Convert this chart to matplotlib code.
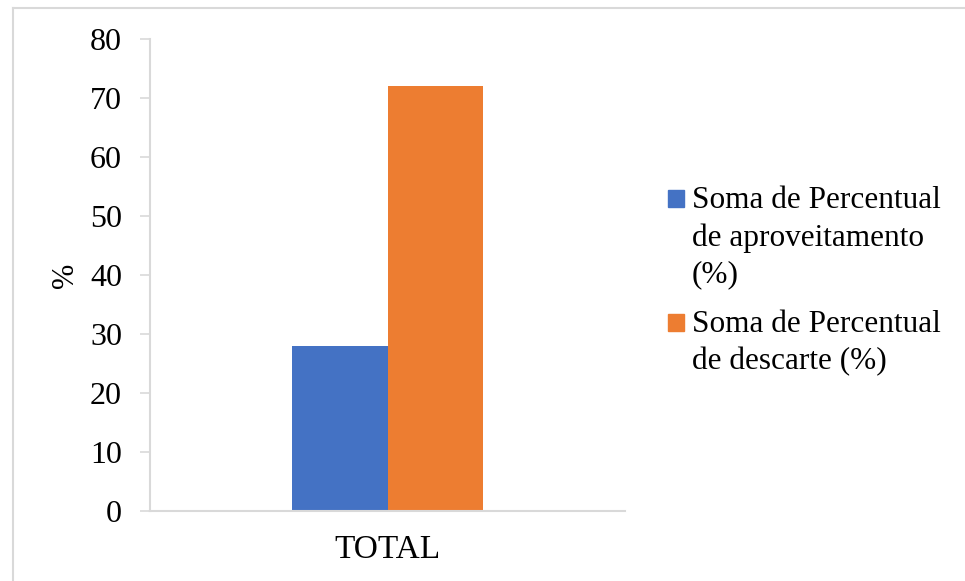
import matplotlib.pyplot as plt
from matplotlib.patches import Rectangle
from matplotlib.lines import Line2D

#_________________________________________
# DATA
#_________________________________________
categories = ["TOTAL"]
series_names = ["Soma de Percentual\nde aproveitamento\n(%)",
                "Soma de Percentual\nde descarte (%)"]
aproveitamento = [28]
descarte = [72]
y_ticks = [0, 10, 20, 30, 40, 50, 60, 70, 80]

colors = ["#4472C4", "#ED7D31"]
grey = "#D9D9D9"

plt.rcParams["font.family"] = ["Liberation Serif", "DejaVu Serif"]

W, H = 965, 581
fig = plt.figure(figsize=(W / 100, H / 100), dpi=100)
ax = fig.add_axes([150 / W, 1 - 511 / H, 475 / W, 472 / H])

# bars
bar_w = 0.201
x = list(range(len(categories)))
ax.bar([i - bar_w / 2 for i in x], aproveitamento, width=bar_w, color=colors[0])
ax.bar([i + bar_w / 2 for i in x], descarte, width=bar_w, color=colors[1])

ax.set_xlim(-0.5, 0.5)
ax.set_ylim(0, 80)
ax.set_yticks(y_ticks)
ax.set_xticks(x)
ax.set_xticklabels(categories, fontsize=24)
ax.tick_params(axis="x", length=0, pad=17)
ax.tick_params(axis="y", length=7.2, width=1.2, color=grey, labelsize=23, pad=13)

for s in ["top", "right"]:
    ax.spines[s].set_visible(False)
for s in ["left", "bottom"]:
    ax.spines[s].set_color(grey)
    ax.spines[s].set_linewidth(1.5)

ax.set_ylabel("%", fontsize=22, labelpad=7)

# legend drawn by hand so marker sits on first line
leg_top = [186, 310]
for name, c, yt in zip(series_names, colors, leg_top):
    fig.patches.append(Rectangle((668 / W, 1 - (yt + 21) / H), 16 / W, 17 / H,
                                 transform=fig.transFigure, color=c))
    fig.text(692 / W, 1 - yt / H, name, fontsize=22.5, va="top",
             ha="left", linespacing=1.36)

# outer frame
fig.add_artist(Line2D([12.5 / W, 12.5 / W], [0, 1 - 7.5 / H], color=grey, lw=1.5,
                      transform=fig.transFigure))
fig.add_artist(Line2D([12.5 / W, 1], [1 - 7.5 / H, 1 - 7.5 / H], color=grey, lw=1.5,
                      transform=fig.transFigure))

plt.savefig("out.png", dpi=100)
